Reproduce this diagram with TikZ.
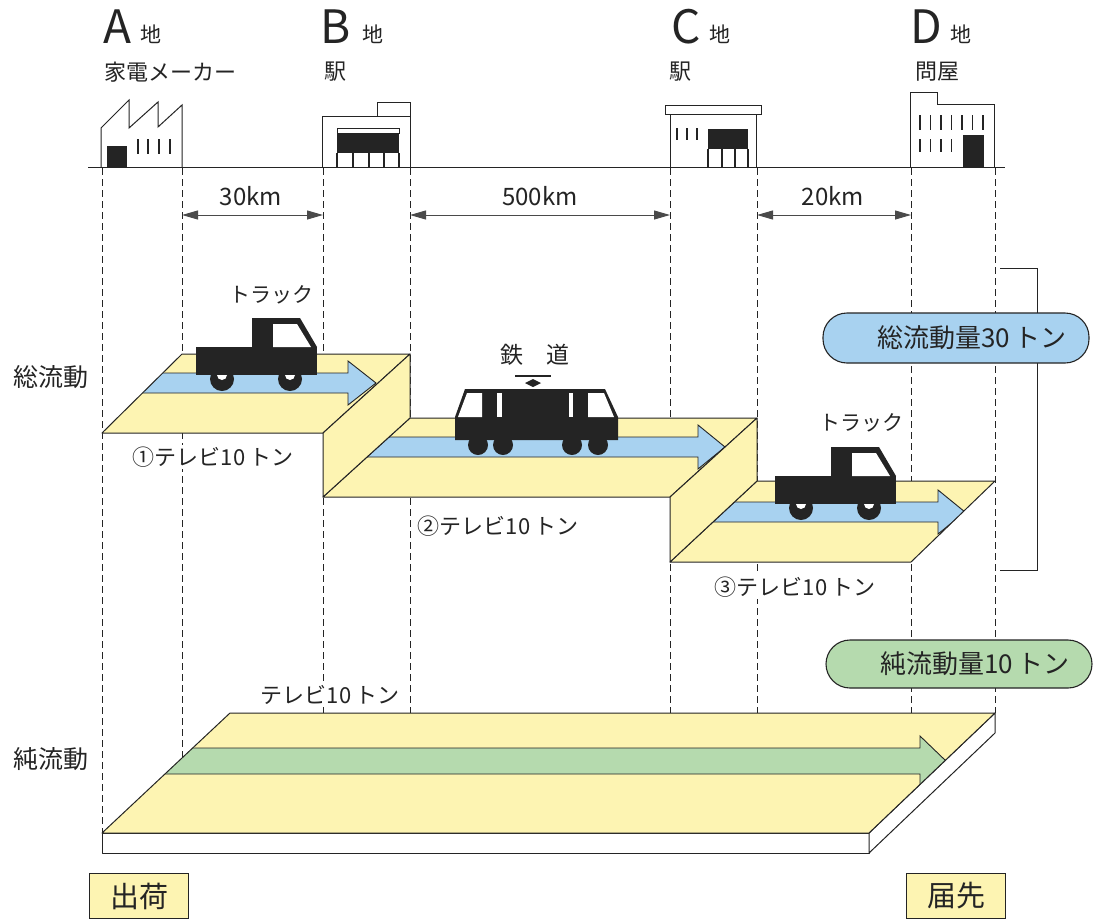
\documentclass[tikz,border=0pt]{standalone}
\usepackage{fontspec}
\setmainfont{Noto Sans CJK JP}
\usetikzlibrary{arrows.meta}
\definecolor{plate}{HTML}{FDF4B2}
\definecolor{flowblue}{HTML}{A8D2F0}
\definecolor{flowgreen}{HTML}{B5DAAE}
\definecolor{ink}{HTML}{242424}
\definecolor{grey}{HTML}{4A4A4A}
\newcommand{\fsz}[1]{\fontsize{#1}{#1}\selectfont}
\newcommand{\ton}{\hspace{0.18em}トン}

\begin{document}
\begin{tikzpicture}[x=1pt,y=-1pt,
  guide/.style={draw=ink,line width=0.9pt,dash pattern=on 7pt off 4pt},
  edge/.style={draw=ink,line width=1pt,line join=round},
  bldg/.style={draw=ink,line width=1pt,fill=white,line join=miter},
  pane/.style={draw=ink,line width=1.2pt},
  span/.style={draw=grey,line width=1pt,{Triangle[length=16pt,width=9pt]}-{Triangle[length=16pt,width=9pt]}},
  txt/.style={inner sep=0pt,text=ink},
  tag/.style={inner sep=2pt,fill=white,text=ink,font=\fsz{22}},
  flow/.style={draw=ink,line width=0.9pt,line join=miter},
  pill/.style={draw=ink,line width=1.1pt,rounded corners=24pt,minimum height=50pt,
               minimum width=266pt,text width=222pt,align=right,font=\fsz{26},text=ink},
  stamp/.style={draw=ink,line width=1pt,fill=plate,minimum width=99pt,minimum height=45pt,
               font=\fsz{29},text=ink,inner sep=0pt},
  lorry/.pic={
    \fill[ink] (0,0) rectangle (121,28);
    \fill[ink] (56,0) -- (56,-29) -- (104,-29) -- (121,0) -- cycle;
    \fill[white] (77,-23) -- (101,-23) -- (115,0) -- (77,0) -- cycle;
    \fill[ink] (26,32) circle (12);
    \fill[ink] (94,32) circle (12);
    \begin{scope}
      \clip (0,28) rectangle (121,40);
      \fill[white] (26,28) circle (5);
      \fill[white] (94,28) circle (5);
    \end{scope}
  }
]
\fill[white] (0,0) rectangle (1099,921);
\useasboundingbox (0,0) rectangle (1099,921);

% ---------- place names ----------
\node[txt,font=\fsz{46}] (letA) at (117,27) {A};
\node[txt,font=\fsz{21}] (chiA) at (151,34) {地};
\node[txt,font=\fsz{22}] (nameA) at (170,72) {家電メーカー};
\node[txt,font=\fsz{46}] (letB) at (336,27) {B};
\node[txt,font=\fsz{21}] (chiB) at (373,34) {地};
\node[txt,font=\fsz{22}] (nameB) at (335,72) {駅};
\node[txt,font=\fsz{46}] (letC) at (686,27) {C};
\node[txt,font=\fsz{21}] (chiC) at (720,34) {地};
\node[txt,font=\fsz{22}] (nameC) at (680,72) {駅};
\node[txt,font=\fsz{46}] (letD) at (926,27) {D};
\node[txt,font=\fsz{21}] (chiD) at (961,34) {地};
\node[txt,font=\fsz{22}] (nameD) at (937,72) {問屋};

% ---------- buildings ----------
% factory
\draw[bldg] (101,167) -- (101,128) -- (129,100) -- (129,128) -- (158,102) -- (158,127) -- (182,105) -- (182,167);
\fill[ink] (107,146) rectangle (127,167);
\foreach \x in {138,148,159,170} \draw[pane] (\x,139) -- (\x,154);
% station B
\draw[bldg] (377,102) rectangle (410,116);
\draw[bldg] (322,116) rectangle (410,167);
\draw[ink,line width=0.8pt] (337,128) rectangle (399,133);
\fill[ink] (337,133) rectangle (399,153);
\foreach \x in {337,353,369,384,399} \draw[pane] (\x,153) -- (\x,167);
% station C
\draw[bldg] (670,114) rectangle (756,167);
\draw[bldg] (665,105) rectangle (761,114);
\foreach \x in {677,687,697} \draw[pane] (\x,128) -- (\x,140);
\fill[ink] (708,129) rectangle (748,149);
\foreach \x in {708,722,735,748} \draw[pane] (\x,149) -- (\x,167);
% wholesaler D
\draw[bldg] (910,167) -- (910,92) -- (937,92) -- (937,104) -- (994,104) -- (994,167);
\foreach \x in {920,930.5,941,951.5,962,972.5,983} \draw[pane] (\x,115) -- (\x,130);
\foreach \x in {920,930.5,941,951.5} \draw[pane] (\x,139) -- (\x,152);
\fill[ink] (963,135) rectangle (984,167);
% ground
\draw[ink,line width=1pt] (88,167) -- (1005,167);

% ---------- guide columns ----------
\foreach \x/\n in {102/aL,182/aR,323/bL,410/bR,670/cL,757/cR,911/dL,995/dR}{
  \coordinate (g\n) at (\x,168);
  \coordinate (s\n) at (\x,215);
}
\coordinate (eaL) at (102,833);
\coordinate (eaR) at (182,758);
\foreach \x/\n in {323/bL,410/bR,670/cL,757/cR,911/dL,995/dR} \coordinate (e\n) at (\x,713);
\foreach \n in {aL,aR,bL,bR,cL,cR,dL,dR} \draw[guide] (g\n) -- (e\n);

% distances
\draw[span] (saR) -- (sbL);
\draw[span] (sbR) -- (scL);
\draw[span] (scR) -- (sdL);
\node[txt,font=\fsz{24}] (d1) at (251,196) {30km};
\node[txt,font=\fsz{24}] (d2) at (540,196) {500km};
\node[txt,font=\fsz{24}] (d3) at (833,196) {20km};

% ---------- total flow: three stepped plates ----------
\def\plA{(102,433) -- (182,354) -- (410,354) -- (323,433) -- cycle}
\def\plB{(323,497) -- (410,418) -- (757,418) -- (670,497) -- cycle}
\def\plC{(670,562) -- (757,481) -- (995,481) -- (911,562) -- cycle}
\fill[plate] \plA;
\begin{scope}\clip \plA;
  \path[flow,fill=flowblue] (60,373) -- (348,373) -- (348,361) -- (376,383) -- (348,405) -- (348,393) -- (60,393) -- cycle;
\end{scope}
\draw[edge] \plA;
\fill[plate] \plB;
\begin{scope}\clip \plB;
  \path[flow,fill=flowblue] (300,437) -- (698,437) -- (698,425) -- (725,447) -- (698,469) -- (698,457) -- (300,457) -- cycle;
\end{scope}
\draw[edge] \plB;
\fill[plate] \plC;
\begin{scope}\clip \plC;
  \path[flow,fill=flowblue] (640,502) -- (938,502) -- (938,490) -- (965,512) -- (938,534) -- (938,522) -- (640,522) -- cycle;
\end{scope}
\draw[edge] \plC;
% risers between the plates
\draw[edge,fill=plate] (323,433) -- (410,354) -- (410,418) -- (323,497) -- cycle;
\draw[edge,fill=plate] (670,497) -- (757,418) -- (757,481) -- (670,562) -- cycle;

% vehicles
\pic at (196,347) {lorry};
\pic at (775,476) {lorry};
\node[txt,font=\fsz{21}] (tr1) at (271,295) {トラック};
\node[txt,font=\fsz{21}] (tr3) at (861,423) {トラック};
% train
\fill[ink] (455,417) -- (465,389) -- (605,389) -- (618,417) -- (618,440) -- (455,440) -- cycle;
\fill[white] (467,393) -- (482,393) -- (482,417) -- (458,417) -- cycle;
\fill[white] (497,393) rectangle (502,417);
\fill[white] (569,393) rectangle (573,417);
\fill[white] (588,393) -- (604,393) -- (614,417) -- (588,417) -- cycle;
\foreach \x in {478,503,572,598} \fill[ink] (\x,445) circle (10);
\draw[ink,line width=1.6pt] (515,376) -- (551,376);
\fill[ink] (525,383) -- (533,379) -- (541,383) -- (533,387) -- cycle;
\node[txt,font=\fsz{23}] (rail) at (535,355) {鉄　道};

% plate labels
\node[tag] (q1) at (213,457) {①テレビ10\ton};
\node[tag] (q2) at (498,526) {②テレビ10\ton};
\node[tag] (q3) at (795,587) {③テレビ10\ton};

% bracket and totals
\draw[ink,line width=1pt] (1000,268) -- (1037,268) -- (1037,570) -- (1000,570);
\node[pill,fill=flowblue] (gross) at (956,338) {総流動量30\ton};
\node[pill,fill=flowgreen,minimum height=48pt] (net) at (959,664) {純流動量10\ton};

% ---------- net flow slab ----------
\draw[edge,fill=white] (102,833) -- (869,833) -- (869,853) -- (102,853) -- cycle;
\draw[edge,fill=white] (869,833) -- (995,713) -- (995,733) -- (869,853) -- cycle;
\def\plN{(102,833) -- (230,713) -- (995,713) -- (869,833) -- cycle}
\fill[plate] \plN;
\begin{scope}\clip \plN;
  \path[flow,fill=flowgreen] (60,748) -- (920,748) -- (920,736) -- (946,761) -- (920,786) -- (920,774) -- (60,774) -- cycle;
\end{scope}
\draw[edge] \plN;
\node[tag] (qn) at (330,695) {テレビ10\ton};

% side labels
\node[txt,font=\fsz{25}] (lg) at (51,377) {総流動};
\node[txt,font=\fsz{25}] (ln) at (51,759) {純流動};
\node[stamp] (ship) at (139,896) {出荷};
\node[stamp] (dest) at (956,896) {届先};
\end{tikzpicture}
\end{document}
